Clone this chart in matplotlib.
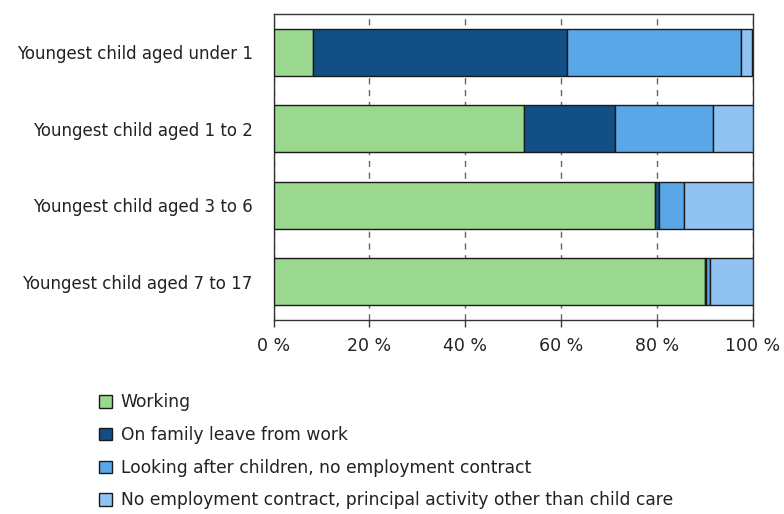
import matplotlib.pyplot as plt
import numpy as np

categories = ['Youngest child aged under 1', 'Youngest child aged 1 to 2',
              'Youngest child aged 3 to 6', 'Youngest child aged 7 to 17']
series = ['Working', 'On family leave from work',
          'Looking after children, no employment contract',
          'No employment contract, principal activity other than child care']
working = [8.3, 52.2, 79.7, 90.1]
family_leave = [52.9, 19.1, 0.7, 0.1]
looking_after = [36.5, 20.4, 5.3, 0.9]
other = [2.3, 8.3, 14.3, 8.9]
xticks = [0, 20, 40, 60, 80, 100]
xtick_labels = ['0 %', '20 %', '40 %', '60 %', '80 %', '100 %']

colors = ['#9ad890', '#124f86', '#5aa7e8', '#90c3f2']

fig = plt.figure(figsize=(7.84, 5.14), dpi=100)
ax = fig.add_axes([273.5 / 784, 1 - 320 / 514, 479 / 784, 306 / 514])

y = np.arange(len(categories))
left = np.zeros(len(categories))
handles = []
for vals, col, name in zip([working, family_leave, looking_after, other], colors, series):
    h = ax.barh(y, vals, left=left, height=0.62, color=col, edgecolor='#1a1a1a',
                linewidth=1, label=name, zorder=3)
    handles.append(h)
    left += np.array(vals)

ax.set_xlim(0, 100)
ax.set_ylim(3.5, -0.5)
ax.set_yticks(y)
ax.set_yticklabels(categories, fontsize=12, color='#222222')
ax.tick_params(axis='y', length=0, pad=15)
ax.set_xticks(xticks)
ax.set_xticklabels(xtick_labels, fontsize=12.5, color='#222222')
ax.tick_params(axis='x', length=5, width=1, direction='out', pad=7, color='#333333')
ax.grid(axis='x', linestyle=(0, (4.5, 4)), color='#666666', linewidth=1, zorder=0)
for sp in ax.spines.values():
    sp.set_color('#333333')
    sp.set_linewidth(1)

fig.legend(handles=handles, labels=series, loc='upper left',
           bbox_to_anchor=(84 / 784, 1 - 378 / 514), frameon=False,
           fontsize=12.3, handlelength=0.75, handleheight=0.75, handletextpad=0.5,
           labelspacing=0.86, labelcolor='#222222')

fig.savefig('out.png', dpi=100)
